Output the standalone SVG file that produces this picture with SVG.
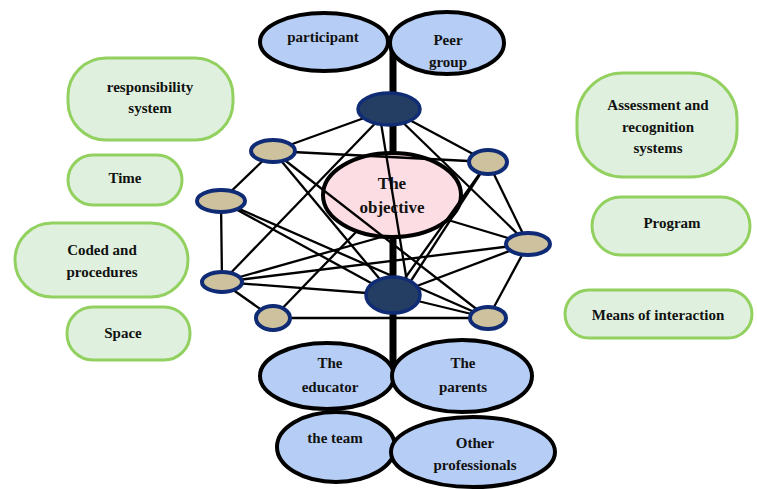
<svg xmlns="http://www.w3.org/2000/svg" width="757" height="489" viewBox="0 0 757 489">
<style>
.box{fill:#DFF1DE;stroke:#92D160;stroke-width:3}
.bl{fill:#B6CEF5;stroke:#000;stroke-width:4}
.tan{fill:#CDC19E;stroke:#0F2B75;stroke-width:4}
.dk{fill:#233D63;stroke:#102C74;stroke-width:3.5}
.t{font-family:"Liberation Serif","Times New Roman",serif;font-weight:bold;font-size:15px;fill:#111;text-anchor:middle}
.ln line{stroke:#000;stroke-width:2.3}
</style>
<rect width="757" height="489" fill="#fff"/>
<g id="spine"><line x1="393" y1="45" x2="393" y2="372" stroke="#000" stroke-width="7"/></g>
<g id="objective"><ellipse cx="392" cy="195" rx="69" ry="42" fill="#FCDDE4" stroke="#000" stroke-width="4"/>
<text class="t" x="392" y="189" style="font-size:17px">The</text><text class="t" x="392" y="213" style="font-size:17px">objective</text></g>
<g id="connectors" class="ln">
<line x1="273" y1="151" x2="389" y2="109"/>
<line x1="222" y1="282" x2="389" y2="109"/>
<line x1="389" y1="109" x2="488" y2="162"/>
<line x1="389" y1="109" x2="528" y2="244"/>
<line x1="381" y1="123" x2="407" y2="282"/>
<line x1="273" y1="151" x2="488" y2="162"/>
<line x1="273" y1="151" x2="221" y2="201"/>
<line x1="273" y1="151" x2="393" y2="295"/>
<line x1="273" y1="151" x2="488" y2="318"/>
<line x1="221" y1="201" x2="222" y2="282"/>
<line x1="221" y1="201" x2="393" y2="295"/>
<line x1="221" y1="201" x2="488" y2="318"/>
<line x1="222" y1="282" x2="273" y2="318"/>
<line x1="222" y1="282" x2="528" y2="244"/>
<line x1="222" y1="282" x2="393" y2="295"/>
<line x1="222" y1="282" x2="385" y2="236"/>
<line x1="273" y1="318" x2="488" y2="318"/>
<line x1="273" y1="318" x2="357" y2="231"/>
<line x1="488" y1="162" x2="528" y2="244"/>
<line x1="488" y1="162" x2="393" y2="295"/>
<line x1="488" y1="162" x2="405" y2="290"/>
<line x1="528" y1="244" x2="488" y2="318"/>
<line x1="528" y1="244" x2="393" y2="295"/>
<line x1="528" y1="244" x2="448" y2="220"/>
<line x1="488" y1="318" x2="393" y2="295"/>
</g>
<g id="n-top-dark"><ellipse class="dk" cx="389" cy="109" rx="31" ry="16"/></g>
<g id="n-bottom-dark"><ellipse class="dk" cx="393" cy="295" rx="27" ry="18"/></g>
<g id="n-a"><ellipse class="tan" cx="273" cy="151" rx="22" ry="11"/></g>
<g id="n-b"><ellipse class="tan" cx="221" cy="201" rx="24" ry="11"/></g>
<g id="n-c"><ellipse class="tan" cx="222" cy="282" rx="20" ry="10"/></g>
<g id="n-d"><ellipse class="tan" cx="273" cy="318" rx="17" ry="12"/></g>
<g id="n-e"><ellipse class="tan" cx="488" cy="162" rx="19" ry="12"/></g>
<g id="n-f"><ellipse class="tan" cx="528" cy="244" rx="22" ry="11"/></g>
<g id="n-g"><ellipse class="tan" cx="488" cy="318" rx="18" ry="11"/></g>
<g id="participant"><ellipse class="bl" cx="324" cy="42" rx="64" ry="29"/><text class="t" x="323" y="42">participant</text></g>
<g id="peer-group"><ellipse class="bl" cx="447" cy="43" rx="57" ry="31"/><text class="t" x="448" y="45">Peer</text><text class="t" x="448" y="67">group</text></g>
<g id="team"><ellipse class="bl" cx="336" cy="447" rx="59" ry="35"/><text class="t" x="335" y="443">the team</text></g>
<g id="other-professionals"><ellipse class="bl" cx="473" cy="452" rx="82" ry="35"/><text class="t" x="475" y="448">Other</text><text class="t" x="475" y="470">professionals</text></g>
<g id="educator"><ellipse class="bl" cx="327" cy="376" rx="67" ry="33"/><text class="t" x="330" y="368">The</text><text class="t" x="330" y="392">educator</text></g>
<g id="parents"><ellipse class="bl" cx="462" cy="376" rx="70" ry="36"/><text class="t" x="463" y="368">The</text><text class="t" x="463" y="392">parents</text></g>
<g id="responsibility"><rect class="box" x="68" y="58" width="165" height="82" rx="38"/><text class="t" x="150" y="92">responsibility</text><text class="t" x="150" y="113">system</text></g>
<g id="time"><rect class="box" x="68" y="155" width="114" height="50" rx="25"/><text class="t" x="125" y="183">Time</text></g>
<g id="coded"><rect class="box" x="15" y="223" width="173" height="74" rx="37"/><text class="t" x="102" y="255">Coded and</text><text class="t" x="102" y="277">procedures</text></g>
<g id="space"><rect class="box" x="67" y="307" width="123" height="53" rx="26"/><text class="t" x="123" y="338">Space</text></g>
<g id="assessment"><rect class="box" x="577" y="73" width="160" height="104" rx="46"/><text class="t" x="658" y="110">Assessment and</text><text class="t" x="658" y="132">recognition</text><text class="t" x="658" y="153">systems</text></g>
<g id="program"><rect class="box" x="592" y="197" width="158" height="58" rx="29"/><text class="t" x="672" y="228">Program</text></g>
<g id="means"><rect class="box" x="565" y="290" width="187" height="48" rx="24"/><text class="t" x="658" y="320">Means of interaction</text></g>
</svg>
